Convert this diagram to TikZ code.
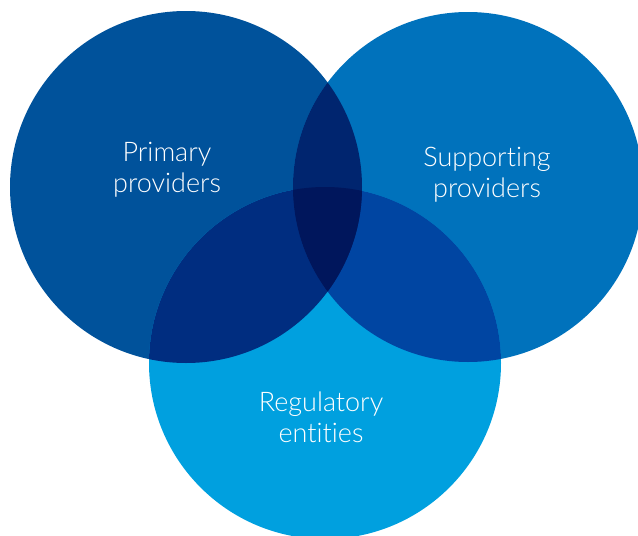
\documentclass[tikz,border=0pt]{standalone}
\usepackage{fontspec}
\setmainfont{Lato Light}[Ligatures=NoCommon]
\definecolor{cL}{HTML}{00529B}
\definecolor{cR}{HTML}{0072BC}
\definecolor{cB}{HTML}{00A0DF}
\definecolor{cLB}{HTML}{002D80}
\definecolor{cRB}{HTML}{0045A2}
\definecolor{cLR}{HTML}{00256F}
\definecolor{cLRB}{HTML}{00165C}
\tikzset{
  lbl/.style={text=white, align=center, inner sep=0pt, font=\fontsize{27}{31}\selectfont},
}
\begin{document}
\begin{tikzpicture}[x=1pt,y=-1pt]
\useasboundingbox (0,0) rectangle (638,536);
\def\circL{(186,187) circle[radius=176]}
\def\circR{(468,187) circle[radius=175]}
\def\circB{(325,363) circle[radius=176]}
\fill[cL] \circL;
\fill[cR] \circR;
\fill[cB] \circB;
\begin{scope}\clip \circL; \fill[cLB] \circB; \end{scope}
\begin{scope}\clip \circR; \fill[cRB] \circB; \end{scope}
\begin{scope}\clip \circL; \fill[cLR] \circR; \end{scope}
\begin{scope}\clip \circL; \clip \circR; \fill[cLRB] \circB; \end{scope}
\node[lbl] (prim) at (167,170) {Primary\\providers};
\node[lbl] (supp) at (487,175) {Supporting\\providers};
\node[lbl] (reg) at (321,417) {Regulatory\\entities};
\end{tikzpicture}
\end{document}
